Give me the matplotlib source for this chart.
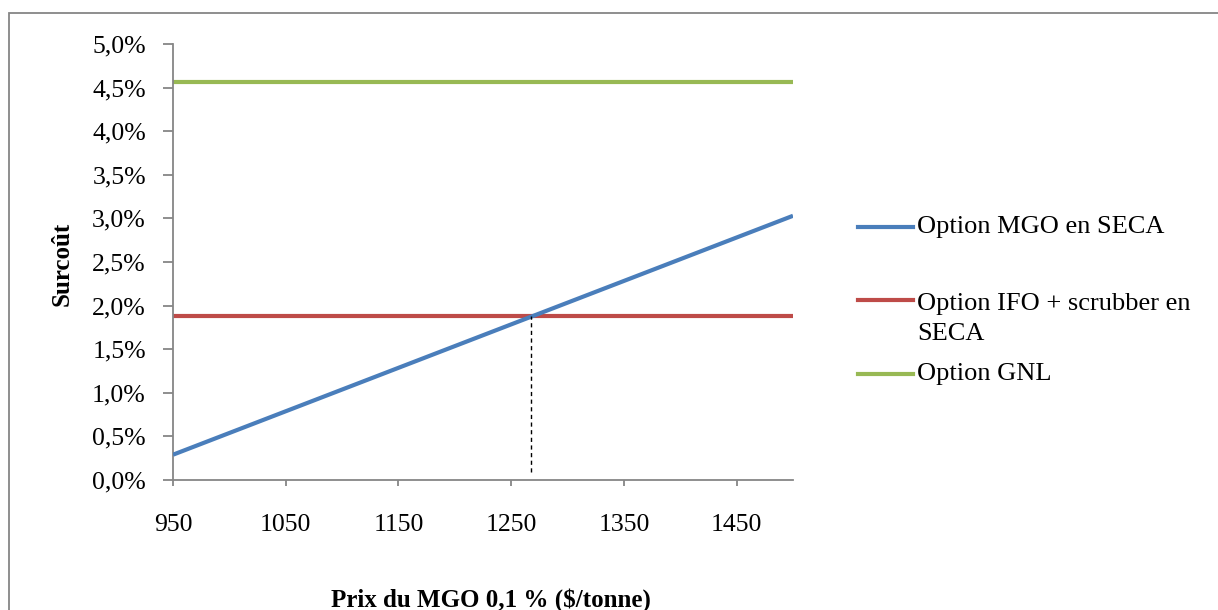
import matplotlib
matplotlib.use("Agg")
import matplotlib.pyplot as plt
from matplotlib.ticker import FuncFormatter, MultipleLocator
from matplotlib.lines import Line2D
from matplotlib.patches import Rectangle

# Data
mgo_price = [950, 1500]
mgo_seca = [0.29, 3.03]           # % surcoût
ifo_scrubber = [1.88, 1.88]
gnl = [4.56, 4.56]
breakeven_x = 1268
x_ticks = [950, 1050, 1150, 1250, 1350, 1450]
labels = ["Option MGO en SECA", "Option IFO + scrubber en\nSECA", "Option GNL"]
colors = ["#4A7EBB", "#BE4B48", "#98B954"]

plt.rcParams['font.family'] = ['Liberation Serif', 'DejaVu Serif']

W, H = 1218, 610
fig = plt.figure(figsize=(W / 100, H / 100), dpi=100)
ax = fig.add_axes([173 / W, 1 - 480 / H, (793 - 173) / W, (480 - 44) / H])

lw = 3.0
ax.plot(mgo_price, mgo_seca, color=colors[0], lw=lw, solid_capstyle='butt', zorder=3)
ax.plot(mgo_price, ifo_scrubber, color=colors[1], lw=lw, solid_capstyle='butt', zorder=2)
ax.plot(mgo_price, gnl, color=colors[2], lw=lw, solid_capstyle='butt', zorder=2)
ax.plot([breakeven_x, breakeven_x], [0.09, ifo_scrubber[0]], color='black', lw=1.0,
        ls=(0, (3, 2.5)), zorder=4)

ax.set_xlim(950, 1500)
ax.set_ylim(0, 5.0)
ax.set_xticks(x_ticks)
ax.yaxis.set_major_locator(MultipleLocator(0.5))
ax.yaxis.set_major_formatter(FuncFormatter(lambda v, p: f"{v:.1f}".replace('.', ',') + "%"))

grey = "#868686"
for s in ['top', 'right']:
    ax.spines[s].set_visible(False)
for s in ['left', 'bottom']:
    ax.spines[s].set_color(grey)
    ax.spines[s].set_linewidth(1.3)
ax.tick_params(axis='both', colors=grey, labelcolor='black', labelsize=18.5,
               width=1.3, direction='out')
ax.tick_params(axis='y', length=7, pad=12.5)
ax.tick_params(axis='x', length=4.5, pad=20)

fig.text(62 / W, 1 - 264 / H, "Surcoût", fontsize=18, fontweight='bold',
         rotation=90, ha='center', va='center')
fig.text(491 / W, 1 - 607 / H, "Prix du MGO 0,1 % ($/tonne)", fontsize=18,
         fontweight='bold', ha='center', va='baseline')

# Legend drawn manually
leg_y = [227, 300, 374]
for yy, lab, c in zip(leg_y, labels, colors):
    fig.add_artist(Line2D([858 / W, 913 / W], [1 - yy / H, 1 - yy / H], color=c, lw=lw,
                          transform=fig.transFigure))
    if "\n" in lab:
        fig.text(917 / W, 1 - (yy - 7) / H, lab, fontsize=19, ha='left', va='top',
                 linespacing=1.45)
    else:
        fig.text(917 / W, 1 - yy / H, lab, fontsize=19, ha='left', va='center')

# Outer border
fig.add_artist(Rectangle((9 / W, -0.05), 1.2, 1 - 13 / H + 0.05, transform=fig.transFigure,
                         fill=False, edgecolor=grey, lw=1.3, clip_on=False))

fig.savefig("out.png", dpi=100)
